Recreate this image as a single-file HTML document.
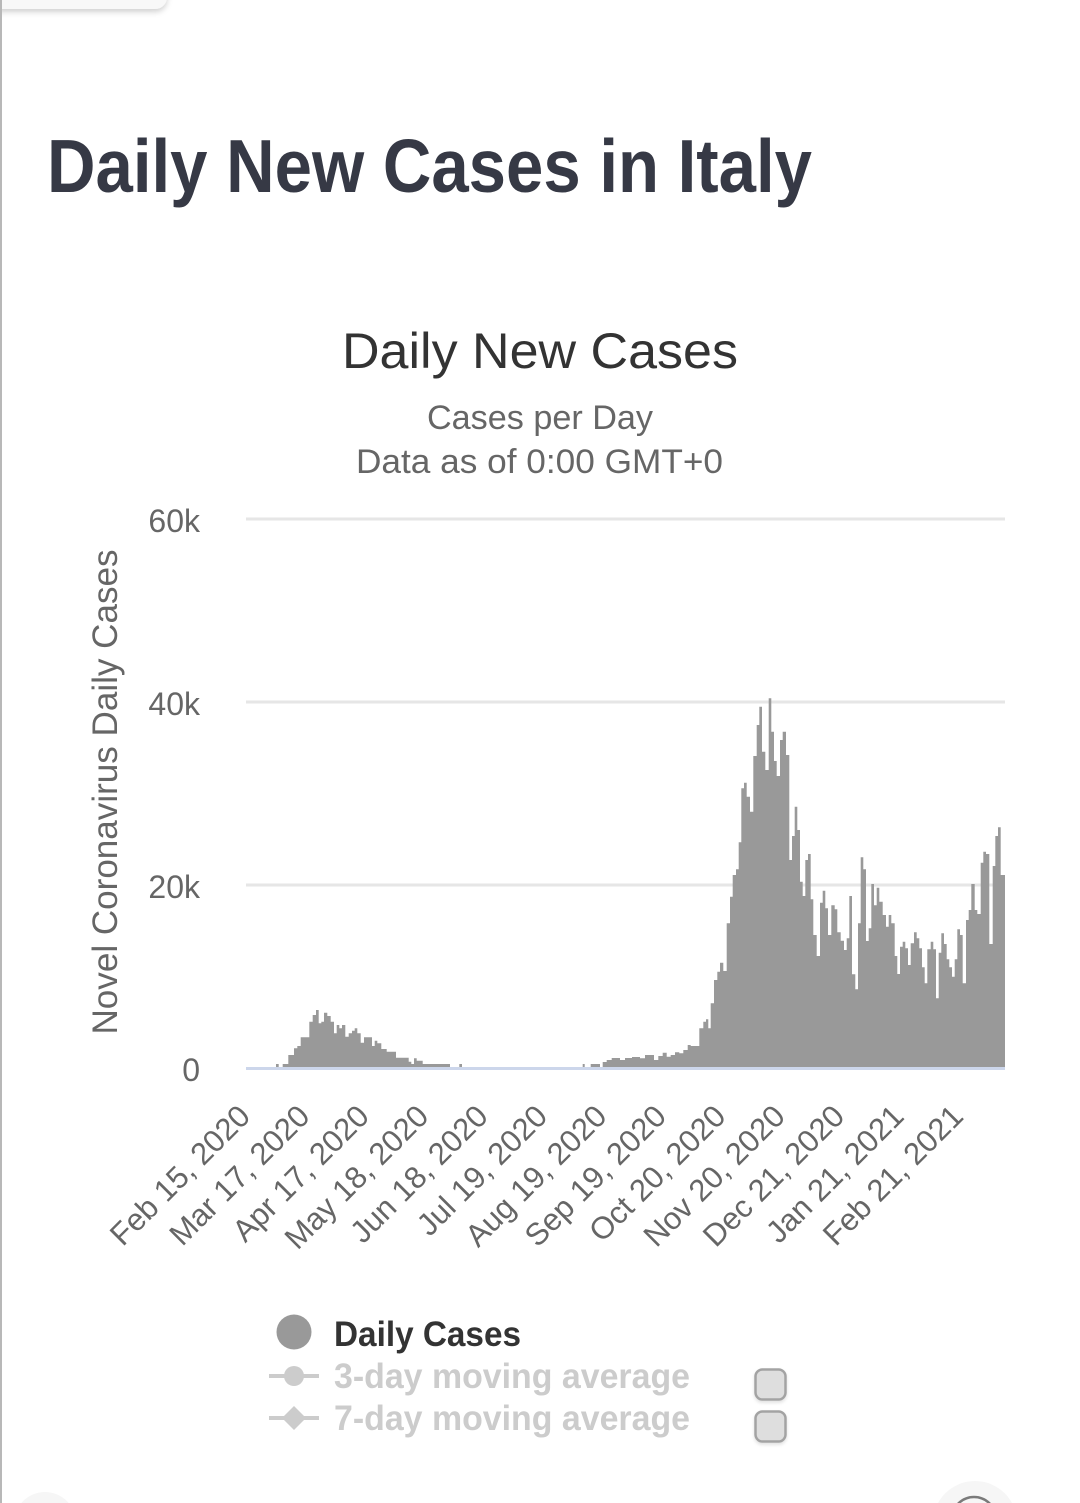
<!DOCTYPE html>
<html>
<head>
<meta charset="utf-8">
<style>
  html, body { margin: 0; padding: 0; background: #ffffff; }
  body { width: 1080px; height: 1503px; overflow: hidden; }
  svg { display: block; font-family: "Liberation Sans", Arial, sans-serif; }
</style>
</head>
<body>
<svg width="1080" height="1503" viewBox="0 0 1080 1503" xmlns="http://www.w3.org/2000/svg">
  <defs>
    <filter id="sh" x="-20%" y="-50%" width="140%" height="250%">
      <feDropShadow dx="0" dy="3" stdDeviation="3" flood-color="#000" flood-opacity="0.18"/>
    </filter>
    <filter id="sh2" x="-30%" y="-30%" width="160%" height="170%">
      <feDropShadow dx="0" dy="2" stdDeviation="1.5" flood-color="#000" flood-opacity="0.12"/>
    </filter>
  </defs>
  <rect x="0" y="0" width="1080" height="1503" fill="#ffffff"/>

  <!-- top-left rounded tab -->
  <rect x="-12" y="-24" width="179" height="33" rx="12" ry="12" fill="#f8f8f8" filter="url(#sh)"/>

  <!-- left border -->
  <rect x="0" y="0" width="2" height="1503" fill="#b8b8b8"/>

  <!-- Page title -->
  <text x="47" y="192" font-size="75" font-weight="bold" fill="#363945" textLength="765" lengthAdjust="spacingAndGlyphs">Daily New Cases in Italy</text>

  <!-- Chart title -->
  <text x="342" y="368" font-size="50" fill="#333333" textLength="396" lengthAdjust="spacingAndGlyphs">Daily New Cases</text>
  <text x="427" y="429" font-size="34" fill="#666666" textLength="226" lengthAdjust="spacingAndGlyphs">Cases per Day</text>
  <text x="356" y="473" font-size="34" fill="#666666" textLength="367" lengthAdjust="spacingAndGlyphs">Data as of 0:00 GMT+0</text>

  <!-- grid lines -->
  <g stroke="#e6e6e6" stroke-width="3">
    <line x1="246" y1="519" x2="1005" y2="519"/>
    <line x1="246" y1="702" x2="1005" y2="702"/>
    <line x1="246" y1="885" x2="1005" y2="885"/>
  </g>

  <!-- y-axis labels -->
  <g font-size="32" fill="#666666" text-anchor="end">
    <text x="200" y="532">60k</text>
    <text x="200" y="715">40k</text>
    <text x="200" y="898">20k</text>
    <text x="200" y="1081">0</text>
  </g>

  <!-- y-axis title -->
  <text transform="translate(117,792) rotate(-90)" text-anchor="middle" font-size="35" fill="#666666" textLength="485" lengthAdjust="spacingAndGlyphs">Novel Coronavirus Daily Cases</text>

  <!-- bars -->
  <path fill="#999999" d="M246,1068
L276,1068 L276,1064 L278.7,1064 L278.7,1068
L282.7,1068 L282.7,1064 L288.3,1064 L288.3,1055 L294,1055 L294,1048.3 L297.3,1048.3 L297.3,1046 L300.7,1046 L300.7,1037.3 L309.3,1037.3 L309.3,1021.7 L312.7,1021.7 L312.7,1015 L316,1015 L316,1010 L318.7,1010 L318.7,1023.3 L321.3,1023.3 L321.3,1021.7 L324,1021.7 L324,1012.7 L327.3,1012.7 L327.3,1016 L330.7,1016 L330.7,1021.7 L334,1021.7 L334,1033.3 L336.7,1033.3 L336.7,1025 L339.3,1025 L339.3,1028.3 L342,1028.3 L342,1025 L345.3,1025 L345.3,1036.7 L348.7,1036.7 L348.7,1033.3 L352,1033.3 L352,1030.7 L354.7,1030.7 L354.7,1028.3 L357.3,1028.3 L357.3,1033.3 L360.7,1033.3 L360.7,1042.7 L364,1042.7 L364,1037.3 L372,1037.3 L372,1046 L374.7,1046 L374.7,1040.7 L377.3,1040.7 L377.3,1043.3 L381.3,1043.3 L381.3,1049 L386.7,1049 L386.7,1051.7 L396,1051.7 L396,1057.7 L408.7,1057.7 L408.7,1061.7 L411.3,1061.7 L411.3,1064 L414,1064 L414,1058.3 L416.7,1058.3 L416.7,1060.7 L422.7,1060.7 L422.7,1064 L450,1064 L450,1068
L459.3,1068 L459.3,1064 L462,1064 L462,1068
L582.7,1068 L582.7,1064 L584.7,1064 L584.7,1068
L590.7,1068 L590.7,1064 L600,1064 L600,1068 L602.7,1068 L602.7,1062 L606.7,1062 L606.7,1060 L611.7,1060 L611.7,1058 L620,1058 L620,1060 L625,1060 L625,1058 L632,1058 L632,1057 L640,1057 L640,1058.3 L645,1058.3 L645,1055 L654,1055 L654,1060 L658.3,1060 L658.3,1056 L662.7,1056 L662.7,1052.7 L666.7,1052.7 L666.7,1056.7 L670.7,1056.7 L670.7,1055 L675,1055 L675,1052.3 L679.3,1052.3 L679.3,1053.3 L683.3,1053.3 L683.3,1050 L687.7,1050 L687.7,1045 L690.7,1045 L690.7,1046 L699.3,1046 L699.3,1028.3 L703.3,1028.3 L703.3,1021.7 L706,1021.7 L706,1019.3 L708.3,1019.3 L708.3,1028.3 L710.7,1028.3 L710.7,1003.3 L714,1003.3 L714,980 L717.3,980 L717.3,971.7 L720,971.7 L720,962.7 L723.3,962.7 L723.3,971 L726.7,971 L726.7,923.3 L730,923.3 L730,896.7 L732.7,896.7 L732.7,875 L736,875 L736,869.3 L738.7,869.3 L738.7,842.3 L741.3,842.3 L741.3,788.3 L744,788.3 L744,782.7 L746.7,782.7 L746.7,796.7 L750,796.7 L750,811.7 L753.3,811.7 L753.3,756 L756.7,756 L756.7,725 L759.3,725 L759.3,706.7 L762,706.7 L762,751.7 L765.3,751.7 L765.3,770 L768.7,770 L768.7,698.3 L771.3,698.3 L771.3,731.7 L774,731.7 L774,761 L776.7,761 L776.7,776 L780,776 L780,740 L782.7,740 L782.7,731.7 L786,731.7 L786,755 L789.3,755 L789.3,860 L792,860 L792,836 L794.7,836 L794.7,806.7 L797.3,806.7 L797.3,830 L800,830 L800,881.7 L802.7,881.7 L802.7,896 L805.3,896 L805.3,860 L808,860 L808,854 L810.7,854 L810.7,899.3 L813.3,899.3 L813.3,935 L816.7,935 L816.7,956 L820,956 L820,902.7 L822.7,902.7 L822.7,890.7 L825.3,890.7 L825.3,908.3 L828,908.3 L828,935 L831.3,935 L831.3,905.3 L834.7,905.3 L834.7,909.3 L837.3,909.3 L837.3,932.3 L840.7,932.3 L840.7,940.7 L844,940.7 L844,950 L846.7,950 L846.7,938.3 L849.3,938.3 L849.3,896 L852,896 L852,974.3 L855.3,974.3 L855.3,989.3 L858,989.3 L858,923.3 L860.7,923.3 L860.7,857.3 L863.3,857.3 L863.3,869.3 L866,869.3 L866,941 L868.7,941 L868.7,928.3 L871.3,928.3 L871.3,884 L874,884 L874,905.3 L876.7,905.3 L876.7,887.7 L879.3,887.7 L879.3,901.7 L882.7,901.7 L882.7,915 L886,915 L886,926.7 L888.7,926.7 L888.7,915 L891.3,915 L891.3,923.3 L894.7,923.3 L894.7,956 L897.3,956 L897.3,974 L900,974 L900,946.7 L902.7,946.7 L902.7,941.7 L905.3,941.7 L905.3,948.3 L908,948.3 L908,965 L910.7,965 L910.7,943.3 L914,943.3 L914,932.3 L916.7,932.3 L916.7,938.3 L919.3,938.3 L919.3,948.3 L922,948.3 L922,967.3 L924.7,967.3 L924.7,983.3 L927.3,983.3 L927.3,949.3 L930.7,949.3 L930.7,941.7 L933.3,941.7 L933.3,949.3 L936,949.3 L936,998.3 L938.7,998.3 L938.7,952.7 L941.3,952.7 L941.3,933.3 L944,933.3 L944,944 L946.7,944 L946.7,959.3 L949.3,959.3 L949.3,967.3 L952,967.3 L952,976.7 L954.7,976.7 L954.7,959.3 L957.3,959.3 L957.3,929.3 L960,929.3 L960,935 L962.7,935 L962.7,983.3 L966,983.3 L966,920 L968.7,920 L968.7,910 L971.3,910 L971.3,884 L974.7,884 L974.7,910 L977.3,910 L977.3,914 L980.7,914 L980.7,862.7 L983.3,862.7 L983.3,851.7 L986,851.7 L986,854 L989.3,854 L989.3,944 L992.7,944 L992.7,866 L995.3,866 L995.3,836 L998,836 L998,827.3 L1000.7,827.3 L1000.7,875 L1005,875 L1005,1068 Z"/>

  <!-- x axis line -->
  <line x1="246" y1="1068.5" x2="1005" y2="1068.5" stroke="#ccd6eb" stroke-width="3"/>

  <!-- x-axis labels -->
  <g font-size="31" fill="#666666" text-anchor="end">
    <text transform="translate(252,1118) rotate(-45)">Feb 15, 2020</text>
    <text transform="translate(311.4,1118) rotate(-45)">Mar 17, 2020</text>
    <text transform="translate(370.8,1118) rotate(-45)">Apr 17, 2020</text>
    <text transform="translate(430.3,1118) rotate(-45)">May 18, 2020</text>
    <text transform="translate(489.7,1118) rotate(-45)">Jun 18, 2020</text>
    <text transform="translate(549.1,1118) rotate(-45)">Jul 19, 2020</text>
    <text transform="translate(608.5,1118) rotate(-45)">Aug 19, 2020</text>
    <text transform="translate(667.9,1118) rotate(-45)">Sep 19, 2020</text>
    <text transform="translate(727.4,1118) rotate(-45)">Oct 20, 2020</text>
    <text transform="translate(786.8,1118) rotate(-45)">Nov 20, 2020</text>
    <text transform="translate(846.2,1118) rotate(-45)">Dec 21, 2020</text>
    <text transform="translate(905.6,1118) rotate(-45)">Jan 21, 2021</text>
    <text transform="translate(965,1118) rotate(-45)">Feb 21, 2021</text>
  </g>

  <!-- legend -->
  <circle cx="294" cy="1332" r="17.5" fill="#999999"/>
  <text x="334" y="1346" font-size="35" font-weight="bold" fill="#333333" textLength="187" lengthAdjust="spacingAndGlyphs">Daily Cases</text>

  <line x1="269" y1="1376" x2="319" y2="1376" stroke="#cccccc" stroke-width="4"/>
  <circle cx="294" cy="1376" r="10" fill="#cccccc"/>
  <text x="334" y="1388" font-size="35" font-weight="bold" fill="#cccccc" textLength="356" lengthAdjust="spacingAndGlyphs">3-day moving average</text>

  <line x1="269" y1="1418" x2="319" y2="1418" stroke="#cccccc" stroke-width="4"/>
  <polygon points="294,1406 306,1418 294,1430 282,1418" fill="#cccccc"/>
  <text x="334" y="1430" font-size="35" font-weight="bold" fill="#cccccc" textLength="356" lengthAdjust="spacingAndGlyphs">7-day moving average</text>

  <!-- checkboxes -->
  <rect x="755.5" y="1369.5" width="30" height="30" rx="7" ry="7" fill="#dedede" stroke="#a3a3a3" stroke-width="2.5" filter="url(#sh2)"/>
  <rect x="755.5" y="1411.5" width="30" height="30" rx="7" ry="7" fill="#dedede" stroke="#a3a3a3" stroke-width="2.5" filter="url(#sh2)"/>

  <!-- bottom decorations -->
  <circle cx="45" cy="1523" r="31" fill="#f6f6f6"/>
  <circle cx="975" cy="1523" r="42" fill="#f6f6f6"/>
  <circle cx="974" cy="1519" r="22" fill="none" stroke="#7a7a7a" stroke-width="2.5"/>
</svg>
</body>
</html>
